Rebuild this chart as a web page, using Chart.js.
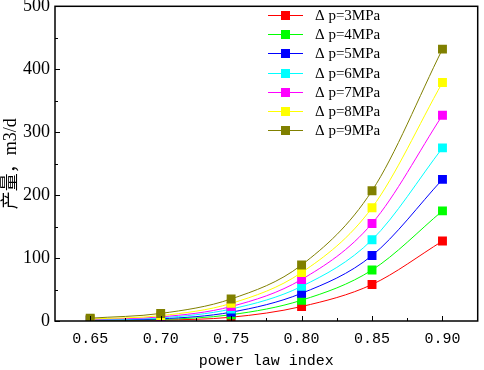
<!DOCTYPE html>
<html>
<head>
<meta charset="utf-8">
<script src="https://cdn.jsdelivr.net/npm/chart.js@4.4.0/dist/chart.umd.min.js"></script>
<style>
  html, body { margin: 0; padding: 0; background: #fff; }
  #wrap { width: 484px; height: 370px; }
</style>
</head>
<body>
<div id="wrap"><canvas id="c" width="484" height="370"></canvas></div>
<script>
'use strict';
// power law index
var xValues = [0.65, 0.70, 0.75, 0.80, 0.85, 0.90];
var xTicks = [0.65, 0.70, 0.75, 0.80, 0.85, 0.90];
var yTicks = [0, 100, 200, 300, 400, 500];

var labels = ['Δ p=3MPa', 'Δ p=4MPa', 'Δ p=5MPa', 'Δ p=6MPa', 'Δ p=7MPa', 'Δ p=8MPa', 'Δ p=9MPa'];
var colors = ['#ff0000', '#00ff00', '#0000ff', '#00ffff', '#ff00ff', '#ffff00', '#808000'];

// 产量 m3/d
var dp3 = [0.8, 1.5, 6, 23, 58, 127];
var dp4 = [1.2, 2.5, 10, 33, 81, 175];
var dp5 = [1.6, 3.5, 14, 44, 104, 225];
var dp6 = [2.1, 5, 19, 55, 129, 275];
var dp7 = [2.6, 6.5, 23, 66, 155, 327];
var dp8 = [3.2, 8.5, 28, 77, 180, 379];
var dp9 = [4.5, 12, 35, 89, 207, 432];
var series = [dp3, dp4, dp5, dp6, dp7, dp8, dp9];

var serif = "'Liberation Serif', 'Noto Sans CJK SC', serif";
var mono = "'Liberation Mono', monospace";

var datasets = series.map(function(vals, i) {
  return {
    label: labels[i],
    data: vals.map(function(v, j) { return { x: xValues[j], y: v }; }),
    borderColor: colors[i],
    backgroundColor: colors[i],
    borderWidth: 1,
    pointStyle: 'rect',
    pointRadius: 6.3,
    pointBorderWidth: 0,
    cubicInterpolationMode: 'monotone',
    order: series.length - i
  };
});

// box frame + inward ticks (major and minor)
var frame = {
  id: 'frame',
  afterDatasetsDraw: function(chart) {
    var ctx = chart.ctx, a = chart.chartArea;
    var xs = chart.scales.x, ys = chart.scales.y;
    ctx.save();
    ctx.strokeStyle = '#000';
    ctx.lineWidth = 1.5;
    ctx.strokeRect(a.left, a.top, a.right - a.left, a.bottom - a.top);
    ctx.lineWidth = 1;
    ctx.beginPath();
    xTicks.forEach(function(t) {
      var px = Math.round(xs.getPixelForValue(t)) + 0.5;
      ctx.moveTo(px, a.bottom); ctx.lineTo(px, a.bottom - 5);
      var mx = Math.round(xs.getPixelForValue(t + 0.025)) + 0.5;
      if (t + 0.025 < xs.max) { ctx.moveTo(mx, a.bottom); ctx.lineTo(mx, a.bottom - 3); }
    });
    yTicks.forEach(function(t) {
      var py = Math.round(ys.getPixelForValue(t)) + 0.5;
      ctx.moveTo(a.left, py); ctx.lineTo(a.left + 5, py);
      if (t + 50 < ys.max) {
        var my = Math.round(ys.getPixelForValue(t + 50)) + 0.5;
        ctx.moveTo(a.left, my); ctx.lineTo(a.left + 3, my);
      }
    });
    ctx.stroke();
    ctx.restore();
  },
  afterDraw: function(chart) {
    // legend: line + square marker, top right inside plot
    var ctx = chart.ctx;
    ctx.save();
    ctx.font = '15px ' + serif;
    ctx.textBaseline = 'middle';
    ctx.textAlign = 'left';
    chart.data.datasets.forEach(function(ds, i) {
      var y = 15 + i * 19.2;
      ctx.strokeStyle = ds.borderColor;
      ctx.lineWidth = 1;
      ctx.beginPath();
      ctx.moveTo(268, Math.round(y) + 0.5);
      ctx.lineTo(303, Math.round(y) + 0.5);
      ctx.stroke();
      ctx.fillStyle = ds.backgroundColor;
      ctx.fillRect(281, Math.round(y) - 4, 9, 9);
      ctx.fillStyle = '#000';
      ctx.fillText(ds.label, 315, y + 1);
    });
    ctx.restore();
  }
};

new Chart(document.getElementById('c'), {
  type: 'line',
  data: { datasets: datasets },
  options: {
    responsive: false,
    animation: false,
    devicePixelRatio: 1,
    layout: { padding: { top: 6, right: -1, left: 0, bottom: 0 } },
    plugins: { legend: { display: false }, tooltip: { enabled: false } },
    scales: {
      x: {
        type: 'linear',
        min: 0.625, max: 0.925,
        afterBuildTicks: function(s) { s.ticks = xTicks.map(function(v) { return { value: v }; }); },
        afterFit: function(s) { s.height = 49; s.paddingLeft = 0; s.paddingRight = 0; },
        grid: { display: false, drawTicks: false },
        border: { display: false },
        ticks: {
          color: '#000', padding: 9, maxRotation: 0,
          font: { family: mono, size: 15 },
          callback: function(v) { return v.toFixed(2); }
        },
        title: {
          display: true, text: 'power law index', color: '#000',
          font: { family: mono, size: 15 }, padding: { top: 4, bottom: 0 }
        }
      },
      y: {
        min: 0, max: 500,
        afterBuildTicks: function(s) { s.ticks = yTicks.map(function(v) { return { value: v }; }); },
        afterFit: function(s) { s.width = 55; s.paddingTop = 0; s.paddingBottom = 0; },
        grid: { display: false, drawTicks: false },
        border: { display: false },
        ticks: {
          color: '#000', padding: 5,
          font: { family: serif, size: 18 }
        },
        title: {
          display: true, text: '产量，m3/d', color: '#000',
          font: { family: serif, size: 18 }, padding: { top: 0, bottom: 0 }
        }
      }
    }
  },
  plugins: [frame]
});
</script>
</body>
</html>
